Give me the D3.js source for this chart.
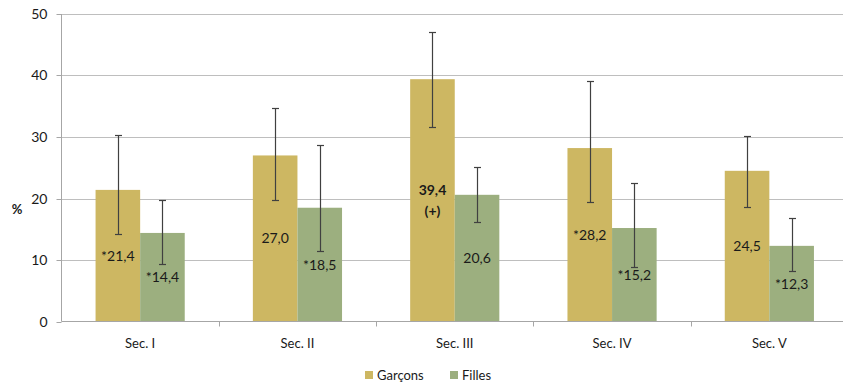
<!DOCTYPE html>
<html><head><meta charset="utf-8">
<script src="https://cdn.jsdelivr.net/npm/d3@7"></script>
<style>body{margin:0;background:#fff}svg{display:block}text{font-family:Lato,"Open Sans",sans-serif;fill:#1a1a1a}</style>
</head><body><svg id="c" width="843" height="384"></svg>
<script>
const categories = ["Sec. I","Sec. II","Sec. III","Sec. IV","Sec. V"];
const seriesNames = ["Garçons","Filles"];
const garcons = [21.4, 27.0, 39.4, 28.2, 24.5];
const filles = [14.4, 18.5, 20.6, 15.2, 12.3];
const garconsLow = [14.2, 19.8, 31.6, 19.5, 18.6];
const garconsHigh = [30.3, 34.7, 47.0, 39.1, 30.1];
const fillesLow = [9.3, 11.4, 16.2, 8.8, 8.2];
const fillesHigh = [19.8, 28.7, 25.1, 22.6, 16.8];
const garconsLabels = [["*21,4"],["27,0"],["39,4","(+)"],["*28,2"],["24,5"]];
const fillesLabels = [["*14,4"],["*18,5"],["20,6"],["*15,2"],["*12,3"]];
const boldLabel = [[false,false,true,false,false],[false,false,false,false,false]];
const yTicks = [0,10,20,30,40,50];
const colors = ["#CDB762","#9CAF7F"];

const svg = d3.select("#c");
const x = d3.scaleBand().domain(categories).range([61.5, 848]).paddingInner(0).paddingOuter(0);
const y = d3.scaleLinear().domain([0,50]).range([321.5, 14]);
const inner = d3.scaleBand().domain(seriesNames).range([0, x.bandwidth()]).paddingInner(0).paddingOuter(0.764);

// gridlines
svg.append("g").selectAll("line").data(yTicks.filter(d=>d>0)).join("line")
  .attr("x1",61.5).attr("x2",843).attr("y1",d=>Math.round(y(d))+0.5).attr("y2",d=>Math.round(y(d))+0.5)
  .attr("stroke","#BEBEBE").attr("stroke-width",1);

// y axis
const ya = svg.append("g").attr("transform","translate(61.5,0)")
  .call(d3.axisLeft(y).tickValues(yTicks).tickSize(5).tickPadding(9).tickFormat(d3.format("d")));
ya.select(".domain").attr("stroke","#A6A6A6").attr("d","M0,14V321.5");
ya.selectAll(".tick line").attr("stroke","#A6A6A6");
ya.selectAll(".tick").attr("transform",d=>`translate(0,${Math.round(y(d))+0.5})`);
ya.selectAll("text").attr("font-size",14).attr("fill","#1a1a1a").style("font-family","Lato, sans-serif");

svg.append("text").attr("x",17).attr("y",214).attr("text-anchor","middle")
  .attr("font-size",13).attr("font-weight","bold").text("%");

const series = [
  {name:seriesNames[0], vals:garcons, lo:garconsLow, hi:garconsHigh, labels:garconsLabels},
  {name:seriesNames[1], vals:filles, lo:fillesLow, hi:fillesHigh, labels:fillesLabels}
];

series.forEach((s,si)=>{
  const g = svg.append("g");
  g.selectAll("rect").data(categories).join("rect")
    .attr("x",(c)=>x(c)+inner(s.name))
    .attr("width",inner.bandwidth())
    .attr("y",(c,i)=>y(s.vals[i]))
    .attr("height",(c,i)=>y(0)-y(s.vals[i]))
    .attr("fill",colors[si]);
});

// x axis
const xa = svg.append("g").attr("transform","translate(0,321.5)");
xa.append("line").attr("x1",61.5).attr("x2",843).attr("stroke","#A6A6A6");
xa.selectAll("line.t").data(categories.slice(1)).join("line").attr("class","t")
  .attr("x1",c=>Math.round(x(c))+0.5).attr("x2",c=>Math.round(x(c))+0.5).attr("y1",0).attr("y2",5).attr("stroke","#A6A6A6");
xa.selectAll("text").data(categories).join("text")
  .attr("x",c=>x(c)+x.bandwidth()/2).attr("y",26).attr("text-anchor","middle").attr("font-size",13).text(c=>c);

// error bars and labels
series.forEach((s,si)=>{
  const g = svg.append("g");
  categories.forEach((c,i)=>{
    const cx = Math.round(x(c)+inner(s.name)+inner.bandwidth()/2)+0.5;
    const t = Math.round(y(s.hi[i]))+0.5, b = Math.round(y(s.lo[i]))+0.5;
    g.append("line").attr("x1",cx).attr("x2",cx).attr("y1",t).attr("y2",b).attr("stroke","#404040").attr("stroke-width",1.2);
    [t,b].forEach(yy=>g.append("line").attr("x1",cx-3.5).attr("x2",cx+3.5).attr("y1",yy).attr("y2",yy).attr("stroke","#404040").attr("stroke-width",1.2));
    const mid = (y(s.vals[i])+y(0))/2;
    const lines = s.labels[i];
    const lh = 21;
    lines.forEach((ln,li)=>{
      g.append("text").attr("x",x(c)+inner(s.name)+inner.bandwidth()/2)
        .attr("y",mid + (li-(lines.length-1)/2)*lh + 5)
        .attr("text-anchor","middle").attr("font-size",14)
        .attr("font-weight",boldLabel[si][i]?"bold":"normal").text(ln);
    });
  });
});

// legend
const leg = svg.append("g");
const legX = [365, 450];
seriesNames.forEach((n,i)=>{
  leg.append("rect").attr("x",legX[i]).attr("y",371).attr("width",8).attr("height",8).attr("fill",colors[i]);
  leg.append("text").attr("x",legX[i]+12).attr("y",380).attr("font-size",13).text(n);
});
</script></body></html>
